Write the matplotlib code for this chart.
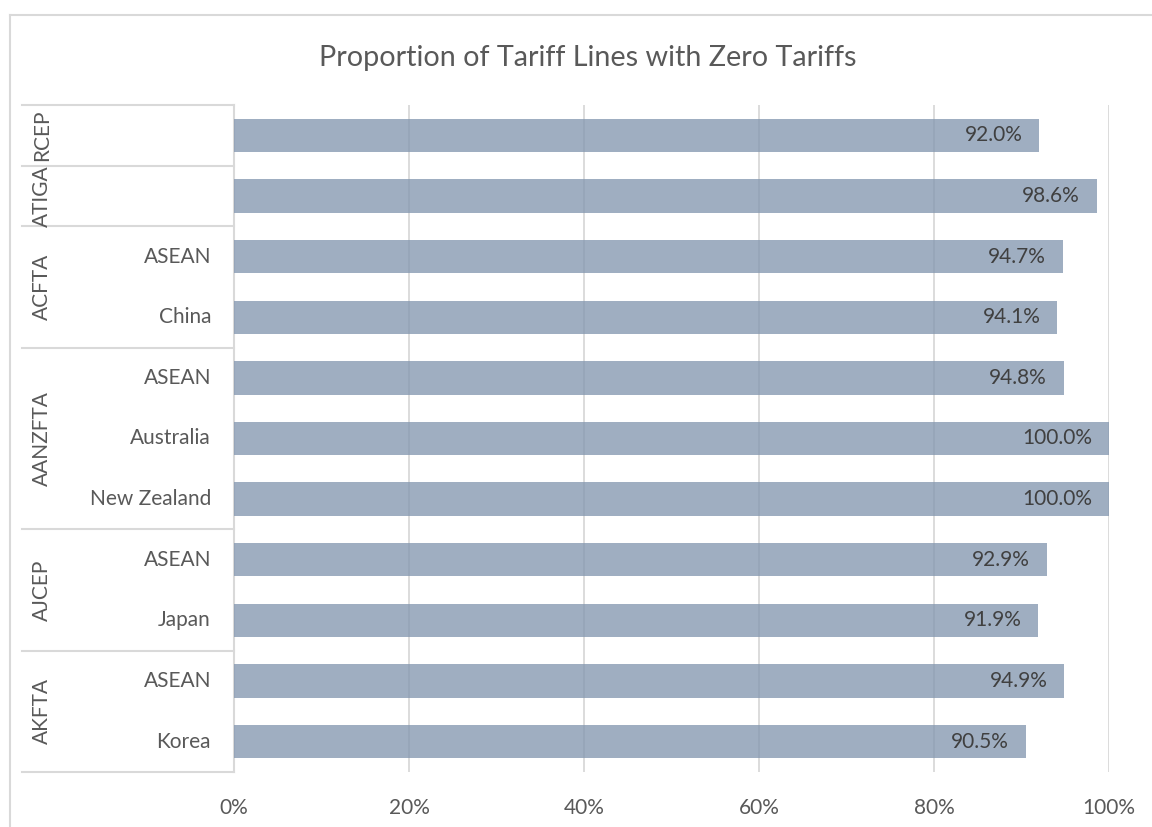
import matplotlib
matplotlib.use("Agg")
import matplotlib.pyplot as plt
from matplotlib.lines import Line2D
import matplotlib.transforms as mtransforms

plt.rcParams['font.family'] = ['Lato', 'DejaVu Sans']

# Data (top to bottom)
groups = ["RCEP", "ATIGA", "ACFTA", "AANZFTA", "AJCEP", "AKFTA"]
group_members = [[""], [""], ["ASEAN", "China"], ["ASEAN", "Australia", "New Zealand"],
                 ["ASEAN", "Japan"], ["ASEAN", "Korea"]]
values = [92.0, 98.6, 94.7, 94.1, 94.8, 100.0, 100.0, 92.9, 91.9, 94.9, 90.5]
xticks = [0, 20, 40, 60, 80, 100]
xtick_labels = ["0%", "20%", "40%", "60%", "80%", "100%"]
title = "Proportion of Tariff Lines with Zero Tariffs"

W, H = 1152, 827
fig = plt.figure(figsize=(W / 100, H / 100), dpi=100)
ax = fig.add_axes([234 / W, 1 - 772 / H, (1109 - 234) / W, (772 - 105) / H])

ypos = list(range(len(values)))
ax.barh(ypos, values, height=0.55, color='#8497B0', alpha=0.78, zorder=3)
ax.set_ylim(len(values) - 0.5, -0.5)
ax.set_xlim(0, 100)

FS = 15
ax.set_xticks(xticks)
ax.set_xticklabels(xtick_labels, fontsize=FS, color='#595959')
ax.tick_params(axis='x', length=0, pad=19)
ax.set_yticks([])
for s in ax.spines.values():
    s.set_visible(False)
ax.grid(axis='x', color='#D9D9D9', linewidth=1.3, zorder=0)
ax.set_axisbelow(True)

# data labels
for y, v in zip(ypos, values):
    ax.annotate(f"{v:.1f}%", xy=(v, y), xytext=(-12, 0), textcoords='offset points',
                ha='right', va='center', fontsize=FS, color='#404040', zorder=4)

# multi-level category axis
trans = mtransforms.blended_transform_factory(ax.transAxes, ax.transData)
x_left = (22 - 234) / (1109 - 234)
x_group = (42 - 234) / (1109 - 234)
x_sub = (211 - 234) / (1109 - 234)

bounds = [-0.5]
i = 0
for g, ms in zip(groups, group_members):
    start = i
    for m in ms:
        if m:
            ax.text(x_sub, i, m, transform=trans, ha='right', va='center',
                    fontsize=FS, color='#595959')
        i += 1
    center = (start + i - 1) / 2
    ax.text(x_group, center, g, transform=trans, ha='center', va='center',
            rotation=90, fontsize=FS, color='#595959')
    bounds.append(i - 0.5)

for b in bounds:
    ax.add_line(Line2D([x_left, 0], [b, b], transform=trans, color='#D9D9D9',
                       linewidth=1.5, clip_on=False))
ax.add_line(Line2D([0, 0], [-0.5, len(values) - 0.5], transform=trans,
                   color='#D9D9D9', linewidth=1.5, clip_on=False, zorder=2))

# outer chart border
fig.add_artist(Line2D([9.5 / W, 1], [1 - 14.5 / H, 1 - 14.5 / H], transform=fig.transFigure,
                      color='#D9D9D9', linewidth=1.5))
fig.add_artist(Line2D([9.5 / W, 9.5 / W], [0, 1 - 14.5 / H], transform=fig.transFigure,
                      color='#D9D9D9', linewidth=1.5))

fig.text(588 / W, 1 - 58 / H, title, ha='center', va='center', fontsize=20.7, color='#595959')

fig.savefig("out.png", dpi=100, facecolor='white')
